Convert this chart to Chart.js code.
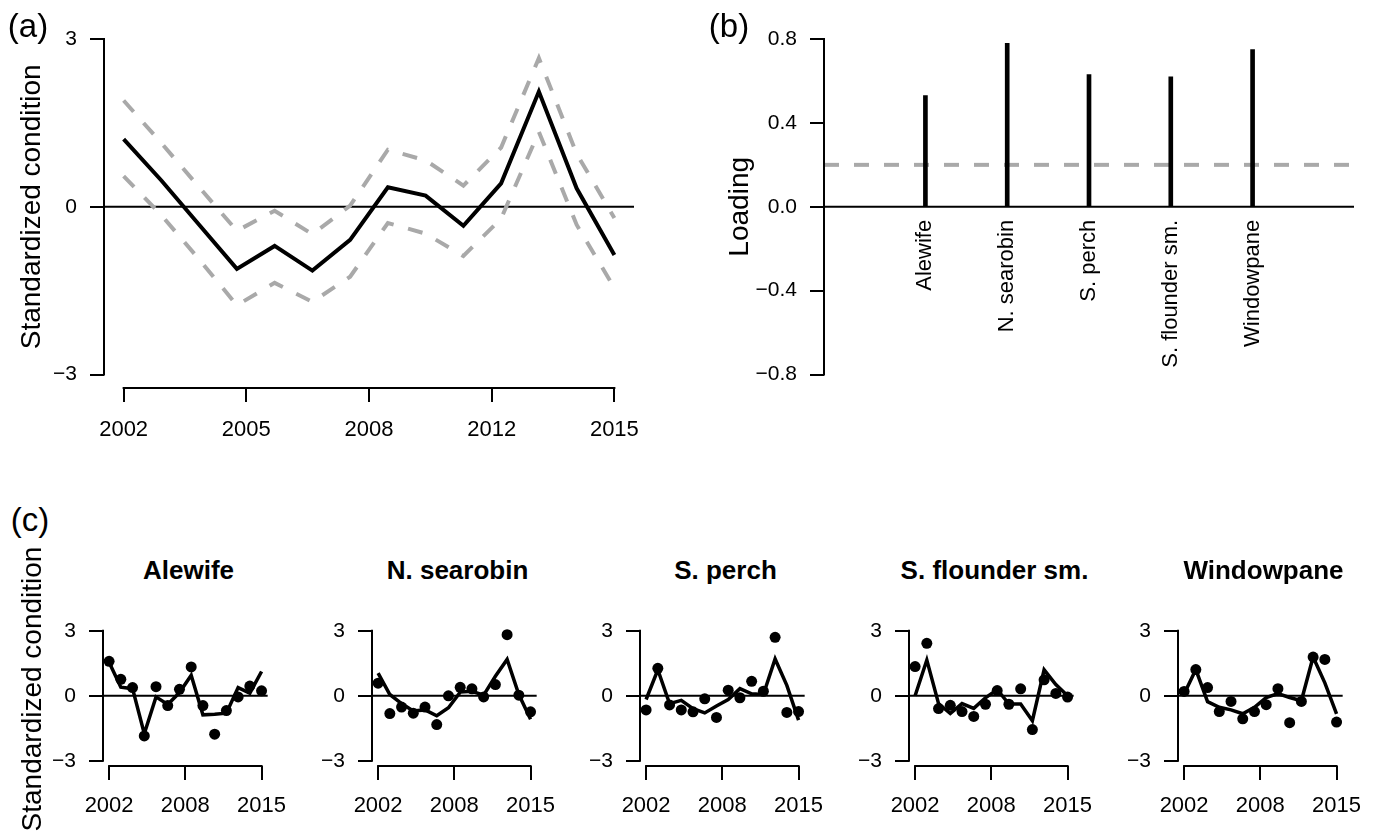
<!DOCTYPE html>
<html>
<head>
<meta charset="utf-8">
<script src="https://cdn.jsdelivr.net/npm/chart.js@4.4.1/dist/chart.umd.min.js"></script>
<style>
  body { margin: 0; background: #fff; }
  #page { position: relative; width: 1381px; height: 833px; overflow: hidden; background: #fff;
          font-family: "Liberation Sans", Arial, Helvetica, sans-serif; color: #000; }
  canvas { position: absolute; }
  .txt { position: absolute; white-space: nowrap; text-align: center; }
</style>
</head>
<body>
<div id="page">
  <canvas id="trend" width="660" height="460" style="left:0;top:0"></canvas>
  <canvas id="loading" width="721" height="460" style="left:660px;top:0"></canvas>
</div>
<script>
// years on the x axis
const years = [2002, 2003, 2004, 2005, 2006, 2007, 2008, 2009, 2010, 2011, 2012, 2013, 2014, 2015];

// (a) shared trend with its interval
const trendMean  = [1.21, 0.47, -0.32, -1.11, -0.70, -1.14, -0.59, 0.35, 0.20, -0.34, 0.42, 2.06, 0.33, -0.86];
const trendUpper = [1.90, 1.14, 0.35, -0.43, -0.07, -0.49, 0.02, 1.02, 0.83, 0.38, 1.06, 2.66, 0.95, -0.20];
const trendLower = [0.55, -0.15, -0.94, -1.76, -1.36, -1.70, -1.25, -0.29, -0.48, -0.88, -0.21, 1.34, -0.32, -1.45];
const trendTicks = [2002, 2005.25, 2008.5, 2011.75, 2015];
const trendTickLabels = ['2002', '2005', '2008', '2012', '2015'];
const conditionTicks = [-3, 0, 3];
const conditionTickLabels = ['\u22123', '0', '3'];

// (b) loadings
const species = ['Alewife', 'N. searobin', 'S. perch', 'S. flounder sm.', 'Windowpane'];
const loadings = [0.53, 0.78, 0.63, 0.62, 0.75];
const loadingCutoff = 0.2;
const loadingTicks = [-0.8, -0.4, 0, 0.4, 0.8];
const loadingTickLabels = ['\u22120.8', '\u22120.4', '0.0', '0.4', '0.8'];

// (c) observed points and fitted lines per species
const alewifeObs    = [1.59, 0.76, 0.38, -1.85, 0.42, -0.45, 0.30, 1.33, -0.45, -1.77, -0.68, -0.05, 0.45, 0.23];
const alewifeFit    = [1.55, 0.40, 0.33, -1.75, -0.05, -0.40, 0.15, 0.95, -0.88, -0.85, -0.80, 0.38, 0.12, 1.12];
const searobinObs   = [0.58, -0.82, -0.52, -0.80, -0.52, -1.33, 0.00, 0.39, 0.32, -0.05, 0.52, 2.82, 0.03, -0.74];
const searobinFit   = [1.05, 0.06, -0.36, -0.70, -0.65, -0.92, -0.55, 0.17, 0.21, 0.03, 0.90, 1.68, 0.06, -1.08];
const perchObs      = [-0.65, 1.27, -0.42, -0.65, -0.74, -0.14, -1.00, 0.26, -0.09, 0.67, 0.21, 2.70, -0.77, -0.73];
const perchFit      = [-0.17, 1.20, -0.36, -0.21, -0.59, -0.79, -0.47, -0.17, 0.33, 0.09, 0.06, 1.70, 0.48, -1.12];
const flounderObs   = [1.35, 2.42, -0.59, -0.44, -0.73, -0.95, -0.39, 0.24, -0.39, 0.32, -1.56, 0.74, 0.11, -0.06];
const flounderFit   = [0.00, 1.65, -0.36, -0.82, -0.36, -0.58, -0.09, 0.29, -0.38, -0.38, -1.15, 1.20, 0.52, 0.00];
const windowpaneObs = [0.20, 1.21, 0.38, -0.73, -0.26, -1.06, -0.73, -0.41, 0.33, -1.24, -0.26, 1.79, 1.68, -1.21];
const windowpaneFit = [0.08, 1.21, -0.27, -0.53, -0.65, -0.83, -0.53, -0.08, 0.10, -0.08, -0.23, 1.79, 0.60, -0.83];
const smallTicks = [2002, 2008.5, 2015];
const smallTickLabels = ['2002', '2008', '2015'];

const FONT = '"Liberation Sans", Arial, Helvetica, sans-serif';
const GREY = '#a9a9a9';
Chart.defaults.font.family = FONT;
Chart.defaults.color = '#000';
Chart.defaults.animation = false;
Chart.defaults.responsive = false;
Chart.defaults.plugins.legend.display = false;
Chart.defaults.plugins.tooltip.enabled = false;

const pts = (ys) => ys.map((y, i) => ({ x: years[i], y: y }));

// R-like axes: line only from first to last tick, plus reference lines
const rStyle = {
  id: 'rStyle',
  beforeDatasetsDraw(chart, args, o) {
    const { ctx, chartArea: a, scales } = chart;
    (o.hlines || []).forEach(h => {
      const y = scales.y.getPixelForValue(h.value);
      ctx.save();
      ctx.strokeStyle = h.color;
      ctx.lineWidth = h.width;
      ctx.setLineDash(h.dash || []);
      ctx.beginPath();
      ctx.moveTo(a.left, y);
      ctx.lineTo(a.right, y);
      ctx.stroke();
      ctx.restore();
    });
  },
  afterDraw(chart, args, o) {
    const { ctx, chartArea: a, scales } = chart;
    ctx.save();
    ctx.strokeStyle = '#000';
    ctx.lineWidth = 2;
    ctx.lineCap = 'square';
    (o.axes || []).forEach(id => {
      const s = scales[id];
      const p0 = s.getPixelForValue(s.ticks[0].value);
      const p1 = s.getPixelForValue(s.ticks[s.ticks.length - 1].value);
      ctx.beginPath();
      if (s.isHorizontal()) { ctx.moveTo(p0, a.bottom); ctx.lineTo(p1, a.bottom); }
      else { ctx.moveTo(a.left, p0); ctx.lineTo(a.left, p1); }
      ctx.stroke();
    });
    ctx.restore();
  }
};

function rAxis(min, max, ticks, labels, size, fontSize, pad) {
  return {
    type: 'linear', min: min, max: max,
    afterBuildTicks: s => { s.ticks = ticks.map(v => ({ value: v })); },
    afterFit: s => { if (s.isHorizontal()) s.height = size; else s.width = size; },
    border: { display: false },
    grid: { drawOnChartArea: false, drawTicks: true, tickLength: 14, lineWidth: 2, color: '#000' },
    ticks: { font: { size: fontSize }, padding: pad || 13, autoSkip: false, maxRotation: 0,
             callback: (v, i) => labels[i] }
  };
}

// (a)
new Chart(document.getElementById('trend'), {
  type: 'scatter',
  data: {
    datasets: [
      { data: pts(trendUpper), showLine: true, borderColor: GREY, borderWidth: 4, borderDash: [15, 15], pointRadius: 0 },
      { data: pts(trendLower), showLine: true, borderColor: GREY, borderWidth: 4, borderDash: [15, 15], pointRadius: 0 },
      { data: pts(trendMean), showLine: true, borderColor: '#000', borderWidth: 4, pointRadius: 0 }
    ]
  },
  options: {
    layout: { padding: { left: 0, top: 6, right: 26, bottom: 0 } },
    scales: {
      x: rAxis(2001.48, 2015.52, trendTicks, trendTickLabels, 72, 22, 15),
      y: Object.assign(rAxis(-3.24, 3.24, conditionTicks, conditionTickLabels, 104, 21), {
        title: { display: true, text: 'Standardized condition', font: { size: 28 }, padding: { top: 15, bottom: 0 } }
      })
    },
    plugins: { rStyle: { axes: ['x', 'y'], hlines: [{ value: 0, color: '#000', width: 2 }] } }
  },
  plugins: [rStyle]
});

// (b)
new Chart(document.getElementById('loading'), {
  type: 'bar',
  data: {
    datasets: [{
      data: loadings.map((v, i) => ({ x: i + 1, y: v })),
      backgroundColor: '#000', barThickness: 4
    }]
  },
  options: {
    layout: { padding: { left: 0, top: 17, right: 27, bottom: 72 } },
    scales: {
      x: {
        type: 'linear', min: -0.24, max: 6.24, offset: false, position: { y: 0 },
        afterBuildTicks: s => { s.ticks = species.map((n, i) => ({ value: i + 1 })); },
        afterFit: s => { s.height = 0; },
        border: { display: false },
        grid: { display: false, drawTicks: false, offset: false },
        ticks: { font: { size: 22 }, padding: 13, autoSkip: false, minRotation: 90, maxRotation: 90,
                 callback: (v, i) => species[i] }
      },
      y: Object.assign(rAxis(-0.864, 0.864, loadingTicks, loadingTickLabels, 164, 21), {
        title: { display: true, text: 'Loading', font: { size: 28 }, padding: { top: 63, bottom: 0 } }
      })
    },
    plugins: { rStyle: { axes: ['y'], hlines: [
      { value: loadingCutoff, color: GREY, width: 4, dash: [15, 15] },
      { value: 0, color: '#000', width: 2 }
    ] } }
  },
  plugins: [rStyle]
});

// (c)
const page = document.getElementById('page');
const smallObs = [alewifeObs, searobinObs, perchObs, flounderObs, windowpaneObs];
const smallFit = [alewifeFit, searobinFit, perchFit, flounderFit, windowpaneFit];
species.forEach((name, i) => {
  const left = Math.round(i * 268.7);
  const cv = document.createElement('canvas');
  cv.width = 300; cv.height = 233;
  cv.style.left = left + 'px'; cv.style.top = '600px';
  page.appendChild(cv);
  new Chart(cv, {
    type: 'scatter',
    data: {
      datasets: [
        { data: pts(smallFit[i]), showLine: true, borderColor: '#000', borderWidth: 3.5, pointRadius: 0 },
        { data: pts(smallObs[i]), showLine: false, backgroundColor: '#000', borderWidth: 0, pointRadius: 5.5 }
      ]
    },
    options: {
      layout: { padding: { left: 0, top: 24, right: 26, bottom: 0 } },
      scales: {
        x: rAxis(2001.48, 2015.52, smallTicks, smallTickLabels, 67, 22),
        y: rAxis(-3.24, 3.24, conditionTicks, conditionTickLabels, 103, 21)
      },
      plugins: { rStyle: { axes: ['x', 'y'], hlines: [{ value: 0, color: '#000', width: 2 }] } }
    },
    plugins: [rStyle]
  });
  const t = document.createElement('div');
  t.className = 'txt';
  t.textContent = name;
  t.style.cssText += 'font-weight:bold;font-size:26px;line-height:30px;width:260px;top:555px;left:' + (left + 188.5 - 130) + 'px';
  page.appendChild(t);
});

// panel letters and shared axis title
function addText(str, cx, cy, size, rotate) {
  const d = document.createElement('div');
  d.className = 'txt';
  d.textContent = str;
  const w = 400, h = Math.round(size * 1.2);
  d.style.cssText += 'font-size:' + size + 'px;line-height:' + h + 'px;width:' + w + 'px;height:' + h + 'px;left:' +
    (cx - w / 2) + 'px;top:' + (cy - h / 2) + 'px;' + (rotate ? 'transform:rotate(-90deg);' : '');
  page.appendChild(d);
}
addText('(a)', 28, 26, 33);
addText('(b)', 729, 26, 33);
addText('(c)', 30, 520, 33);
addText('Standardized condition', 32, 689, 28, true);
</script>
</body>
</html>
